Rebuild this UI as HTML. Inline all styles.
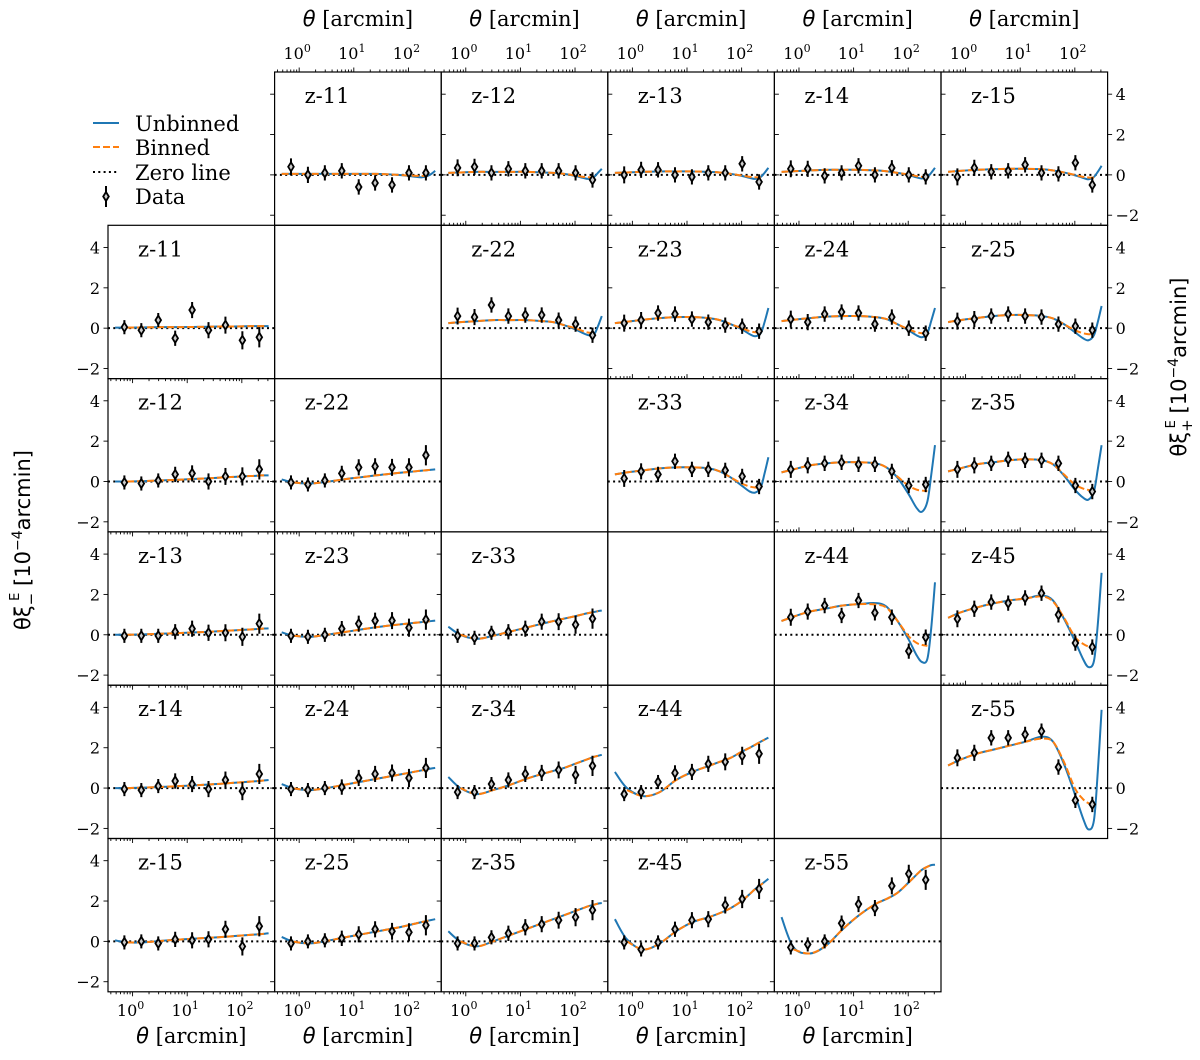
<!DOCTYPE html>
<html><head><meta charset="utf-8">
<style>
html,body{margin:0;padding:0;background:#fff;}
svg{display:block;}
text{font-family:"DejaVu Serif","Liberation Serif",serif;fill:#000;}
.sans{font-family:"DejaVu Sans","Liberation Sans",sans-serif;}
</style></head>
<body>
<svg id="fig" width="1200" height="1060" viewBox="0 0 1200 1060" xmlns="http://www.w3.org/2000/svg">
<g id="legend">
  <line x1="93" y1="123" x2="119" y2="123" stroke="#1f77b4" stroke-width="2"/>
  <text x="135" y="131" font-size="21">Unbinned</text>
  <line x1="93" y1="147" x2="119" y2="147" stroke="#ff7f0e" stroke-width="2" stroke-dasharray="7,3"/>
  <text x="135" y="155" font-size="21">Binned</text>
  <line x1="93" y1="172" x2="119" y2="172" stroke="#000" stroke-width="2" stroke-dasharray="2,3.3"/>
  <text x="135" y="180" font-size="21">Zero line</text>
  <line x1="106" y1="186" x2="106" y2="207" stroke="#000" stroke-width="2"/>
  <path d="M106,192 L108.8,196.5 L106,201 L103.2,196.5 Z" fill="#ccc" stroke="#000" stroke-width="1.8"/>
  <text x="135" y="204" font-size="21">Data</text>
</g>
<text class="sans" font-size="21" transform="translate(30,540) rotate(-90)" text-anchor="middle">θξ<tspan font-size="15" dy="6">−</tspan><tspan font-size="13" dy="-17" dx="-8">E</tspan><tspan dy="11"> [10</tspan><tspan font-size="14" dy="-8">−4</tspan><tspan dy="8">arcmin]</tspan></text>
<text class="sans" font-size="21" transform="translate(1186,367) rotate(-90)" text-anchor="middle">θξ<tspan font-size="15" dy="6">+</tspan><tspan font-size="13" dy="-17" dx="-9">E</tspan><tspan dy="11"> [10</tspan><tspan font-size="14" dy="-8">−4</tspan><tspan dy="8">arcmin]</tspan></text>
<g id="panels"></g>
</svg>
<script>
// ---- data ----
const thetaLog = [-0.15,0.16,0.47,0.78,1.09,1.39,1.70,2.01,2.32];
const modelLog = [-0.32,-0.1,0.2,0.5,0.8,1.1,1.4,1.6,1.8,2.0,2.15,2.25,2.35,2.42,2.49];
const errP = [0.42,0.4,0.38,0.38,0.38,0.38,0.38,0.38,0.38];
const errM = [0.35,0.35,0.35,0.38,0.4,0.4,0.42,0.45,0.5];
const yTicks = [4,2,0,-2];
const xMajor = [0,1,2];

const panelNames = ["z-11","z-12","z-13","z-14","z-15","z-22","z-23","z-24","z-25","z-33","z-34","z-35","z-44","z-45","z-55",
  "z-11","z-12","z-13","z-14","z-15","z-22","z-23","z-24","z-25","z-33","z-34","z-35","z-44","z-45","z-55"];
const panelSide = ["p","p","p","p","p","p","p","p","p","p","p","p","p","p","p",
  "m","m","m","m","m","m","m","m","m","m","m","m","m","m","m"];
const panelRow = [0,0,0,0,0,1,1,1,1,2,2,2,3,3,4, 1,2,3,4,5,2,3,4,5,3,4,5,4,5,5];
const panelCol = [1,2,3,4,5,2,3,4,5,3,4,5,4,5,5, 0,0,0,0,0,1,1,1,1,2,2,2,3,3,4];

const dataVals = [
 [0.4,0.0,0.1,0.2,-0.6,-0.4,-0.5,0.1,0.1],
 [0.35,0.4,0.1,0.3,0.2,0.2,0.2,0.1,-0.25],
 [0.0,0.25,0.25,0.0,-0.1,0.1,0.1,0.55,-0.35],
 [0.3,0.3,-0.05,0.1,0.45,0.0,0.35,0.0,-0.1],
 [-0.1,0.35,0.15,0.2,0.5,0.1,0.05,0.6,-0.5],
 [0.6,0.55,1.15,0.6,0.65,0.65,0.4,0.2,-0.35],
 [0.25,0.4,0.75,0.7,0.45,0.3,0.15,0.1,-0.15],
 [0.45,0.3,0.7,0.8,0.75,0.2,0.55,0.0,-0.25],
 [0.35,0.45,0.6,0.7,0.6,0.55,0.2,0.1,-0.1],
 [0.15,0.5,0.35,1.0,0.6,0.6,0.55,0.25,-0.25],
 [0.6,0.8,0.9,0.95,0.85,0.85,0.5,-0.2,-0.15],
 [0.6,0.8,0.9,1.1,1.05,1.05,0.9,-0.2,-0.5],
 [0.87,1.15,1.45,0.96,1.7,1.09,0.87,-0.81,-0.12],
 [0.79,1.29,1.62,1.57,1.83,2.06,0.99,-0.41,-0.61],
 [1.5,1.75,2.49,2.49,2.66,2.82,1.04,-0.61,-0.81],
 [0.05,-0.1,0.4,-0.5,0.9,-0.1,0.15,-0.6,-0.45],
 [-0.05,-0.1,0.05,0.35,0.4,0.0,0.25,0.25,0.6],
 [-0.05,-0.05,-0.05,0.15,0.3,0.1,0.1,-0.1,0.55],
 [-0.05,-0.1,0.1,0.35,0.2,-0.05,0.4,-0.15,0.7],
 [-0.05,0.0,-0.1,0.1,0.05,0.1,0.6,-0.25,0.75],
 [-0.05,-0.15,0.05,0.4,0.7,0.75,0.7,0.7,1.3],
 [-0.05,-0.1,0.0,0.3,0.55,0.7,0.7,0.35,0.75],
 [-0.05,-0.1,0.0,0.05,0.5,0.7,0.75,0.5,1.0],
 [-0.1,0.0,0.05,0.15,0.35,0.6,0.5,0.45,0.8],
 [-0.05,-0.15,0.1,0.15,0.3,0.65,0.65,0.5,0.8],
 [-0.2,-0.2,0.2,0.4,0.7,0.75,0.9,0.65,1.1],
 [-0.1,-0.1,0.2,0.4,0.7,0.85,1.05,1.2,1.55],
 [-0.3,-0.2,0.3,0.75,0.8,1.2,1.3,1.6,1.7],
 [-0.05,-0.4,-0.05,0.6,1.05,1.1,1.8,2.1,2.6],
 [-0.3,-0.15,0.0,0.9,1.85,1.65,2.75,3.35,3.05]
];
const unbinned = [
 [0.05,0.05,0.05,0.05,0.05,0.05,0.05,0.03,0,-0.05,-0.1,-0.12,-0.05,0.05,0.2],
 [0.1,0.12,0.15,0.15,0.15,0.15,0.12,0.1,0.05,-0.05,-0.15,-0.2,-0.1,0.1,0.3],
 [0.1,0.12,0.15,0.17,0.17,0.17,0.15,0.12,0.05,-0.05,-0.15,-0.2,-0.1,0.1,0.35],
 [0.15,0.18,0.22,0.25,0.25,0.25,0.22,0.18,0.1,0,-0.12,-0.18,-0.1,0.1,0.35],
 [0.15,0.2,0.25,0.28,0.3,0.3,0.28,0.22,0.12,-0.02,-0.15,-0.22,-0.1,0.15,0.45],
 [0.25,0.3,0.35,0.4,0.4,0.4,0.35,0.3,0.15,-0.05,-0.25,-0.35,-0.3,0.1,0.6],
 [0.25,0.32,0.42,0.5,0.55,0.55,0.5,0.4,0.2,-0.05,-0.3,-0.4,-0.25,0.3,1.0],
 [0.35,0.42,0.5,0.57,0.6,0.6,0.55,0.45,0.2,-0.1,-0.35,-0.45,-0.25,0.35,1.0],
 [0.3,0.4,0.5,0.6,0.65,0.65,0.6,0.48,0.2,-0.2,-0.5,-0.6,-0.35,0.3,1.1],
 [0.35,0.45,0.55,0.65,0.7,0.7,0.65,0.5,0.2,-0.2,-0.5,-0.55,-0.3,0.4,1.2],
 [0.45,0.6,0.8,0.9,0.95,0.95,0.9,0.7,0.2,-0.6,-1.3,-1.5,-1.0,0.3,1.8],
 [0.5,0.65,0.85,0.95,1.05,1.1,1.05,0.85,0.3,-0.4,-0.8,-0.9,-0.5,0.6,1.8],
 [0.68,0.9,1.15,1.3,1.45,1.52,1.57,1.4,0.7,-0.2,-1.0,-1.35,-1.2,0.3,2.6],
 [0.84,1.1,1.35,1.55,1.7,1.8,1.95,1.7,0.8,-0.3,-1.2,-1.6,-1.3,0.5,3.07],
 [1.12,1.4,1.7,1.9,2.1,2.3,2.55,2.3,1.2,-0.3,-1.5,-2.05,-1.6,0.8,3.88],
 [0.03,0.03,0.04,0.05,0.05,0.06,0.07,0.08,0.08,0.09,0.1,0.1,0.1,0.1,0.1],
 [0,0,0.02,0.05,0.08,0.12,0.16,0.19,0.22,0.25,0.27,0.28,0.3,0.3,0.3],
 [0,0,0.02,0.05,0.08,0.11,0.15,0.18,0.21,0.24,0.26,0.28,0.3,0.31,0.32],
 [0,0,0.02,0.05,0.09,0.13,0.18,0.21,0.25,0.29,0.32,0.34,0.36,0.38,0.4],
 [0.05,-0.05,-0.05,0.02,0.08,0.13,0.18,0.21,0.25,0.29,0.32,0.34,0.36,0.38,0.4],
 [0.1,-0.05,-0.1,-0.02,0.1,0.2,0.3,0.36,0.42,0.47,0.51,0.54,0.56,0.58,0.6],
 [0.12,-0.05,-0.1,0,0.12,0.25,0.37,0.44,0.5,0.56,0.6,0.63,0.66,0.68,0.7],
 [0.2,-0.02,-0.1,0,0.15,0.3,0.45,0.55,0.65,0.75,0.83,0.88,0.93,0.97,1.0],
 [0.22,-0.02,-0.1,0.02,0.18,0.33,0.48,0.58,0.68,0.8,0.9,0.96,1.02,1.06,1.1],
 [0.4,0,-0.2,-0.05,0.15,0.35,0.55,0.68,0.8,0.92,1.02,1.08,1.13,1.17,1.2],
 [0.55,0.0,-0.3,-0.1,0.15,0.45,0.7,0.85,1.0,1.2,1.35,1.45,1.55,1.6,1.65],
 [0.5,0,-0.25,0,0.3,0.6,0.9,1.1,1.3,1.5,1.65,1.75,1.82,1.87,1.9],
 [0.8,0,-0.4,-0.2,0.4,0.8,1.1,1.3,1.5,1.8,2.0,2.15,2.3,2.4,2.5],
 [1.1,0.1,-0.4,-0.1,0.5,0.95,1.2,1.4,1.65,2.0,2.35,2.6,2.8,2.95,3.1],
 [1.2,-0.3,-0.6,-0.2,0.6,1.3,1.85,2.1,2.4,2.9,3.3,3.55,3.7,3.78,3.8]
];
// xi+ binned: model grid points 0..12 ; xi- binned: model grid points 1..13
const binned = [
 [0.05,0.05,0.05,0.05,0.05,0.05,0.05,0.03,0,-0.03,-0.05,-0.05,-0.05],
 [0.1,0.12,0.15,0.15,0.15,0.15,0.12,0.1,0.05,-0.03,-0.1,-0.12,-0.12],
 [0.1,0.12,0.15,0.17,0.17,0.17,0.15,0.12,0.05,-0.03,-0.1,-0.12,-0.12],
 [0.15,0.18,0.22,0.25,0.25,0.25,0.22,0.18,0.1,0.02,-0.06,-0.1,-0.1],
 [0.15,0.2,0.25,0.28,0.3,0.3,0.28,0.22,0.12,0,-0.1,-0.13,-0.14],
 [0.25,0.3,0.35,0.4,0.4,0.4,0.35,0.3,0.15,0,-0.15,-0.22,-0.25],
 [0.25,0.32,0.42,0.5,0.55,0.55,0.5,0.4,0.2,0,-0.15,-0.2,-0.2],
 [0.35,0.42,0.5,0.57,0.6,0.6,0.55,0.45,0.2,-0.05,-0.2,-0.25,-0.25],
 [0.3,0.4,0.5,0.6,0.65,0.65,0.6,0.48,0.2,-0.1,-0.25,-0.3,-0.3],
 [0.35,0.45,0.55,0.65,0.7,0.7,0.65,0.5,0.2,-0.1,-0.25,-0.3,-0.3],
 [0.45,0.6,0.8,0.9,0.95,0.95,0.9,0.7,0.25,-0.2,-0.4,-0.45,-0.48],
 [0.5,0.65,0.85,0.95,1.05,1.1,1.05,0.85,0.35,-0.15,-0.35,-0.42,-0.45],
 [0.68,0.9,1.15,1.3,1.45,1.52,1.5,1.35,0.7,-0.05,-0.4,-0.5,-0.55],
 [0.84,1.1,1.35,1.55,1.7,1.8,1.9,1.65,0.85,-0.1,-0.45,-0.58,-0.62],
 [1.12,1.4,1.7,1.9,2.1,2.3,2.45,2.3,1.3,0.0,-0.55,-0.75,-0.85],
 [0.03,0.04,0.05,0.05,0.06,0.07,0.08,0.08,0.09,0.1,0.1,0.1,0.1],
 [0,0.02,0.05,0.08,0.12,0.16,0.19,0.22,0.25,0.27,0.28,0.3,0.3],
 [0,0.02,0.05,0.08,0.11,0.15,0.18,0.21,0.24,0.26,0.28,0.3,0.31],
 [0,0.02,0.05,0.09,0.13,0.18,0.21,0.25,0.29,0.32,0.34,0.36,0.38],
 [-0.05,-0.05,0.02,0.08,0.13,0.18,0.21,0.25,0.29,0.32,0.34,0.36,0.38],
 [-0.05,-0.1,-0.02,0.1,0.2,0.3,0.36,0.42,0.47,0.51,0.54,0.56,0.58],
 [-0.05,-0.1,0,0.12,0.25,0.37,0.44,0.5,0.56,0.6,0.63,0.66,0.68],
 [-0.02,-0.1,0,0.15,0.3,0.45,0.55,0.65,0.75,0.83,0.88,0.93,0.97],
 [-0.02,-0.1,0.02,0.18,0.33,0.48,0.58,0.68,0.8,0.9,0.96,1.02,1.06],
 [0,-0.2,-0.05,0.15,0.35,0.55,0.68,0.8,0.92,1.02,1.08,1.13,1.17],
 [0.0,-0.3,-0.1,0.15,0.45,0.7,0.85,1.0,1.2,1.35,1.45,1.55,1.6],
 [0,-0.25,0,0.3,0.6,0.9,1.1,1.3,1.5,1.65,1.75,1.82,1.87],
 [-0.1,-0.4,-0.2,0.4,0.8,1.1,1.3,1.5,1.8,2.0,2.15,2.3,2.4],
 [0.0,-0.4,-0.1,0.5,0.95,1.2,1.4,1.65,2.0,2.35,2.6,2.8,2.95],
 [-0.4,-0.6,-0.2,0.6,1.3,1.85,2.1,2.4,2.9,3.3,3.55,3.7,3.78]
];

// ---- layout ----
const colX = [108,274.6,441.2,607.8,774.4,941,1107.6];
const rowY = [72,225.3,378.6,531.9,685.2,838.5,991.8];
const LMIN = -0.45, LMAX = 2.6, YMIN = -2.5, YMAX = 5.1;
const NS = "http://www.w3.org/2000/svg";
const root = document.getElementById('panels');

function mk(tag, attrs, parent){
  const e = document.createElementNS(NS, tag);
  for (const k in attrs) e.setAttribute(k, attrs[k]);
  parent.appendChild(e);
  return e;
}
function smoothPath(pts){
  let d = "M" + pts[0][0].toFixed(2) + "," + pts[0][1].toFixed(2);
  for (let i=0;i<pts.length-1;i++){
    const p0 = pts[Math.max(0,i-1)], p1 = pts[i], p2 = pts[i+1], p3 = pts[Math.min(pts.length-1,i+2)];
    const c1x = p1[0]+(p2[0]-p0[0])/6, c1y = p1[1]+(p2[1]-p0[1])/6;
    const c2x = p2[0]-(p3[0]-p1[0])/6, c2y = p2[1]-(p3[1]-p1[1])/6;
    d += " C"+c1x.toFixed(2)+","+c1y.toFixed(2)+" "+c2x.toFixed(2)+","+c2y.toFixed(2)+" "+p2[0].toFixed(2)+","+p2[1].toFixed(2);
  }
  return d;
}

function drawFrame(r, c, name){
  const x0 = colX[c], x1 = colX[c+1], y0 = rowY[r], y1 = rowY[r+1];
  const g = mk('g', {}, root);
  
  
  const box = mk('rect', {x:x0, y:y0, width:x1-x0, height:y1-y0, fill:'none', stroke:'#000', 'stroke-width':1.2}, g);
  
  
  return g;
}

[[1,1],[2,2],[3,3],[4,4]].forEach(rc => drawFrame(rc[0], rc[1], 'empty-panel'));

function xTicks(g, x0, x1, yy, dir, labels){
  const sx = l => x0 + (l - LMIN) / (LMAX - LMIN) * (x1 - x0);
  for (let dec=-1; dec<=2; dec++){
    for (let m=1; m<=9; m++){
      const l = dec + Math.log10(m);
      if (l < LMIN || l > LMAX) continue;
      const len = (m===1) ? 4.5 : 2.5;
      const t = mk('line', {x1:sx(l), x2:sx(l), y1:yy, y2:yy+dir*len, stroke:'#000', 'stroke-width':0.9}, g);
      
      
    }
  }
  if (labels){
    xMajor.forEach(p => {
      const ty = dir < 0 ? yy - 13 : yy + 24;
      const t = mk('text', {x:sx(p)-2, y:ty, 'font-size':16, 'text-anchor':'middle'}, g);
      
      
      t.textContent = '10';
      const s = mk('tspan', {dy:-7, 'font-size':11}, t);
      s.textContent = String(p);
    });
    const cx = (x0+x1)/2;
    const ty = dir < 0 ? 26 : 1043;
    const at = mk('text', {x:cx, y:ty, 'font-size':21, 'text-anchor':'middle'}, g);
    
    
    const th = mk('tspan', {'font-style':'italic', 'class':'sans'}, at);
    th.textContent = 'θ';
    const rest = mk('tspan', {}, at);
    rest.textContent = ' [arcmin]';
  }
}
function yTickMarks(g, xx, y0, y1, dir, labels){
  const sy = v => y0 + (YMAX - v) / (YMAX - YMIN) * (y1 - y0);
  yTicks.forEach(v => {
    const t = mk('line', {x1:xx, x2:xx+dir*4.5, y1:sy(v), y2:sy(v), stroke:'#000', 'stroke-width':0.9}, g);
    
    
    if (labels){
      const lab = mk('text', {x: dir<0 ? xx-8 : xx+8, y: sy(v)+6, 'font-size':16, 'text-anchor': dir<0 ? 'end' : 'start'}, g);
      
      
      lab.textContent = v < 0 ? '−' + Math.abs(v) : String(v);
    }
  });
}

for (let i=0; i<panelNames.length; i++){
  const r = panelRow[i], c = panelCol[i], side = panelSide[i];
  const x0 = colX[c], x1 = colX[c+1], y0 = rowY[r], y1 = rowY[r+1];
  const sx = l => x0 + (l - LMIN) / (LMAX - LMIN) * (x1 - x0);
  const sy = v => y0 + (YMAX - v) / (YMAX - YMIN) * (y1 - y0);
  const g = drawFrame(r, c, 'panel-' + (side==='p'?'xi-plus-':'xi-minus-') + panelNames[i]);
  const clipId = 'clip' + i;
  const cp = mk('clipPath', {id: clipId}, g);
  mk('rect', {x:x0, y:y0, width:x1-x0, height:y1-y0}, cp);
  const inner = mk('g', {'clip-path':'url(#'+clipId+')'}, g);
  const z = mk('line', {x1:x0, x2:x1, y1:sy(0), y2:sy(0), stroke:'#000', 'stroke-width':2, 'stroke-dasharray':'2,3.3'}, inner);
  
  
  const up = unbinned[i].map((v,k) => [sx(modelLog[k]), sy(v)]);
  const u = mk('path', {d: smoothPath(up), fill:'none', stroke:'#1f77b4', 'stroke-width':2}, inner);
  
  
  const off = side==='m' ? 1 : 0;
  const bp = binned[i].map((v,k) => [sx(modelLog[k + off]), sy(v)]);
  const b = mk('path', {d: smoothPath(bp), fill:'none', stroke:'#ff7f0e', 'stroke-width':2, 'stroke-dasharray':'7,3'}, inner);
  
  
  const errs = side==='p' ? errP : errM;
  dataVals[i].forEach((v,k) => {
    const px = sx(thetaLog[k]), py = sy(v);
    const e = mk('line', {x1:px, x2:px, y1:sy(v+errs[k]), y2:sy(v-errs[k]), stroke:'#000', 'stroke-width':2}, inner);
    
    
    const m = mk('path', {d:`M${px},${py-4.5} L${px+2.8},${py} L${px},${py+4.5} L${px-2.8},${py} Z`, fill:'#ccc', stroke:'#000', 'stroke-width':1.8}, inner);
    
    
  });
  const t = mk('text', {x:x0+30, y:y0+31, 'font-size':21}, g);
  
  
  t.textContent = panelNames[i];
  if (side==='p'){
    xTicks(g, x0, x1, y0, -1, r===0);
    yTickMarks(g, x1, y0, y1, 1, c===5);
    if (r===0 && c===1) yTickMarks(g, x0, y0, y1, -1, false);
  } else {
    xTicks(g, x0, x1, y1, 1, r===5);
    yTickMarks(g, x0, y0, y1, -1, c===0);
  }
}
</script>
</body></html>
